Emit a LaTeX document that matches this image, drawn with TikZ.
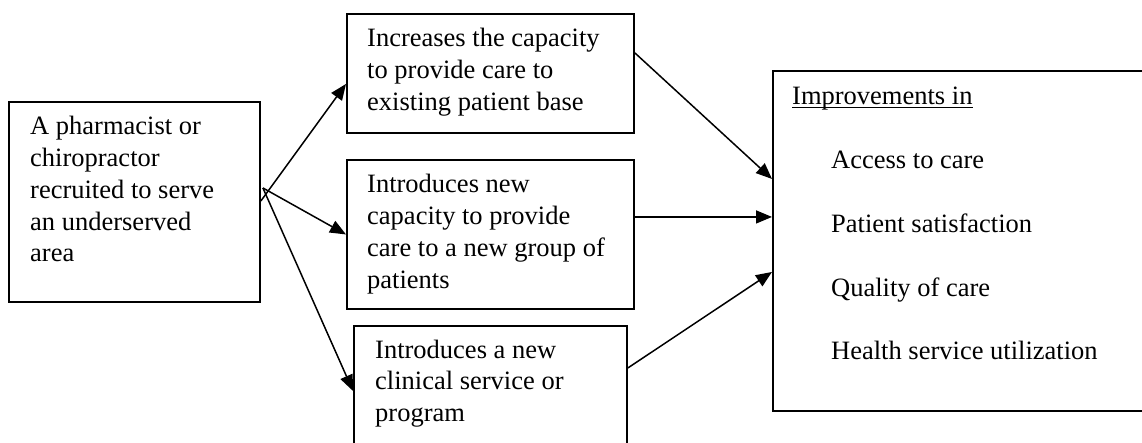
\documentclass[tikz,border=0pt]{standalone}
\usepackage{fontspec}
\setmainfont{Liberation Serif}
\usetikzlibrary{arrows.meta}
\newcommand{\myul}[1]{\setbox0\hbox{#1}\rlap{\rule[-3.5pt]{\wd0}{1.5pt}}\box0}
\begin{document}
\begin{tikzpicture}[x=1pt,y=-1pt,
  box/.style={draw, line width=1.9pt, rectangle, inner sep=0pt, anchor=north west},
  txt/.style={anchor=base west, inner sep=0pt, font=\fontsize{26.5}{31.7}\selectfont},
  arr/.style={line width=1.5pt, -{Triangle[length=16pt,width=13pt]}}]
\useasboundingbox (0,0) rectangle (1142,443);
\clip (0,0) rectangle (1142,443);
% boxes
\node[box, minimum width=251pt, minimum height=200pt] (L) at (8,101) {};
\node[box, minimum width=287pt, minimum height=119pt] (T) at (346,13) {};
\node[box, minimum width=287pt, minimum height=149pt] (M) at (346,159) {};
\node[box, minimum width=273pt, minimum height=140pt] (B) at (353,325) {};
\node[box, minimum width=400pt, minimum height=340pt] (R) at (772,70) {};
% texts
\node[txt] (tL) at (30,135) {\begin{tabular}[t]{@{}l@{}}A pharmacist or\\chiropractor\\recruited to serve\\an underserved\\area\end{tabular}};
\node[txt] (tT) at (367,47) {\begin{tabular}[t]{@{}l@{}}Increases the capacity\\to provide care to\\existing patient base\end{tabular}};
\node[txt] (tM) at (367,193) {\begin{tabular}[t]{@{}l@{}}Introduces new\\capacity to provide\\care to a new group of\\patients\end{tabular}};
\node[txt] (tB) at (375,358) {\begin{tabular}[t]{@{}l@{}}Introduces a new\\clinical service or\\program\end{tabular}};
\node[txt] (tR) at (792,105) {\begin{tabular}[t]{@{}l@{}}\myul{Improvements in}\\[32pt]\hspace{39pt}Access to care\\[32pt]\hspace{39pt}Patient satisfaction\\[32pt]\hspace{39pt}Quality of care\\[32pt]\hspace{39pt}Health service utilization\end{tabular}};
% connectors
\draw[arr] ([yshift=1pt]L.east) -- ([yshift=-10.5pt]T.west);
\draw[arr] ([xshift=2pt,yshift=14pt]L.east) -- (M.west);
\draw[arr] ([xshift=2pt,yshift=14pt]L.east) -- ([yshift=5pt]B.west);
\draw[arr] ([yshift=20.5pt]T.east) -- ([yshift=62pt]R.west);
\draw[arr] ([yshift=17.5pt]M.east) -- ([yshift=24pt]R.west);
\draw[arr] ([yshift=28pt]B.east) -- ([yshift=-31pt]R.west);
\end{tikzpicture}
\end{document}
